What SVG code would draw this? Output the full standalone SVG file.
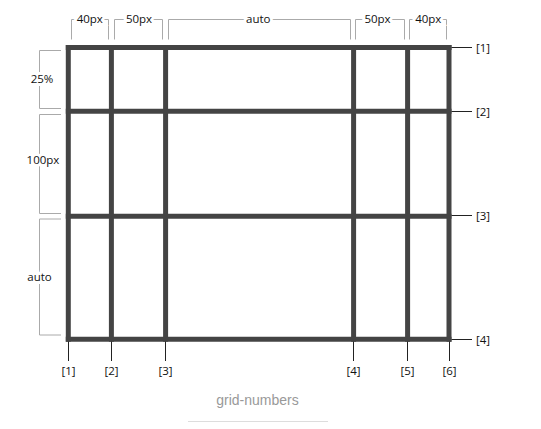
<svg xmlns="http://www.w3.org/2000/svg" width="541" height="429" viewBox="0 0 541 429">
<style>
.grid{stroke:#444;stroke-width:5;stroke-linecap:square;fill:none}
.br{stroke:#aaa;stroke-width:1;fill:none}
.tk{stroke:#222;stroke-width:1;fill:none}
.lbl{font-family:"Open Sans","DejaVu Sans",sans-serif;font-size:11.5px;fill:#111}
.bg{stroke:#fff;stroke-width:6;paint-order:stroke}
.cap{font-family:"Liberation Sans",Arial,sans-serif;font-size:14px;fill:#999}
</style>
<rect width="541" height="429" fill="#fff"/>
<g id="grid">
<line class="grid" x1="68.3" y1="47.5" x2="68.3" y2="339.3"/>
<line class="grid" x1="111.4" y1="47.5" x2="111.4" y2="339.3"/>
<line class="grid" x1="165.6" y1="47.5" x2="165.6" y2="339.3"/>
<line class="grid" x1="353.6" y1="47.5" x2="353.6" y2="339.3"/>
<line class="grid" x1="407.6" y1="47.5" x2="407.6" y2="339.3"/>
<line class="grid" x1="449" y1="47.5" x2="449" y2="339.3"/>
<line class="grid" x1="68.3" y1="47.5" x2="449" y2="47.5"/>
<line class="grid" x1="68.3" y1="111.3" x2="449" y2="111.3"/>
<line class="grid" x1="68.3" y1="216.3" x2="449" y2="216.3"/>
<line class="grid" x1="68.3" y1="339.3" x2="449" y2="339.3"/>
</g>
<g id="connectors">
<path class="br" d="M71.5,39.5V19.5H108.5V39.5"/>
<path class="br" d="M114.5,39.5V19.5H162.5V39.5"/>
<path class="br" d="M168.5,39.5V19.5H350.5V39.5"/>
<path class="br" d="M355.5,39.5V19.5H404.5V39.5"/>
<path class="br" d="M409.5,39.5V19.5H446.5V39.5"/>
<path class="br" d="M61,50.5H39.5V108.5H61"/>
<path class="br" d="M61,114.5H39.5V213.5H61"/>
<path class="br" d="M61,219H39.5V335H61"/>
<path class="tk" d="M451.5,47.5H472M451.5,111.5H472M451.5,215.5H472M451.5,339.5H472"/>
<path class="tk" d="M68.5,341.5V361M111.5,341.5V361M165.5,341.5V361M353.5,341.5V361M407.5,341.5V361M449.5,341.5V361"/>
<line x1="188" y1="421.5" x2="328" y2="421.5" stroke="#ddd" stroke-width="1"/>
</g>
<g id="col-labels" class="lbl" text-anchor="middle">
<text class="bg" x="89.8" y="23">40px</text>
<text class="bg" x="139" y="23">50px</text>
<text class="bg" x="258.3" y="23">auto</text>
<text class="bg" x="377.5" y="23">50px</text>
<text class="bg" x="428.3" y="23">40px</text>
</g>
<g id="row-labels" class="lbl" text-anchor="middle">
<text class="bg" x="42" y="83">25%</text>
<text class="bg" x="43" y="164">100px</text>
<text class="bg" x="39.5" y="281">auto</text>
</g>
<g id="line-numbers" class="lbl">
<text x="476" y="51.5">[1]</text>
<text x="476" y="115.5">[2]</text>
<text x="476" y="219.5">[3]</text>
<text x="476" y="343.5">[4]</text>
<g text-anchor="middle">
<text x="68.5" y="375">[1]</text>
<text x="111.5" y="375">[2]</text>
<text x="165.5" y="375">[3]</text>
<text x="353.5" y="375">[4]</text>
<text x="407.5" y="375">[5]</text>
<text x="449.5" y="375">[6]</text>
</g>
</g>
<g id="caption">
<text class="cap" x="257.5" y="404.5" text-anchor="middle">grid-numbers</text>
</g>
</svg>
